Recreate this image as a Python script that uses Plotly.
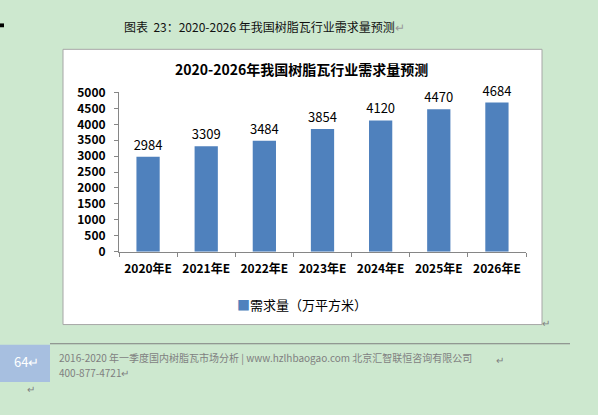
import plotly.graph_objects as go

categories = ["2020年E", "2021年E", "2022年E", "2023年E", "2024年E", "2025年E", "2026年E"]
demand = [2984, 3309, 3484, 3854, 4120, 4470, 4684]
series_name = "需求量（万平方米）"
chart_title = "2020-2026年我国树脂瓦行业需求量预测"
caption = "图表  23：2020-2026 年我国树脂瓦行业需求量预测"
footer_line1 = "2016-2020 年一季度国内树脂瓦市场分析 | www.hzlhbaogao.com 北京汇智联恒咨询有限公司"
footer_line2 = "400-877-4721"
page_no = "64"

W, H = 598, 415
def px(x): return x / W
def py(y): return 1 - y / H

FONT = "Noto Sans CJK SC"
BG = "#cde8cf"
BAR = "#4f81bd"

fig = go.Figure()
fig.add_trace(go.Bar(
    x=categories, y=demand, name=series_name,
    marker=dict(color=BAR, line=dict(width=0)),
    width=0.4,
    text=[str(v) for v in demand], textposition="outside", constraintext="none",
    textfont=dict(family=FONT, size=13, color="#000000"),
    cliponaxis=False, showlegend=False,
))

shapes = [
    dict(type="rect", xref="paper", yref="paper", x0=px(63), x1=px(542), y0=py(328), y1=py(41),
         fillcolor="white", line=dict(color="#a6a6a6", width=1), layer="below"),
    dict(type="line", xref="paper", yref="paper", x0=px(50), x1=px(570), y0=py(348), y1=py(348),
         line=dict(color="#7f7f7f", width=1)),
    dict(type="rect", xref="paper", yref="paper", x0=px(0), x1=px(50), y0=py(388), y1=py(349),
         fillcolor="#a7bfe0", line=dict(width=0)),
    dict(type="rect", xref="paper", yref="paper", x0=px(0), x1=px(4), y0=py(18), y1=py(14),
         fillcolor="#000000", line=dict(width=0)),
]

annotations = [
    dict(text=caption + "<span style='color:#999'>↵</span>", x=px(264), y=py(17), xref="paper", yref="paper",
         showarrow=False, font=dict(family=FONT, size=12, color="#111111"), xanchor="center", yanchor="middle"),
    dict(text="<b>" + chart_title + "</b>", x=px(301), y=py(61), xref="paper", yref="paper",
         showarrow=False, font=dict(family=FONT, size=14, color="#000000"), xanchor="center", yanchor="middle"),
    dict(text="<span style='color:%s'>■</span>" % BAR + series_name, x=px(302), y=py(307), xref="paper", yref="paper",
         showarrow=False, font=dict(family=FONT, size=13, color="#000000"), xanchor="center", yanchor="middle"),
    dict(text=page_no + "↵", x=px(26), y=py(367), xref="paper", yref="paper",
         showarrow=False, font=dict(family=FONT, size=13, color="#ffffff"), xanchor="center", yanchor="middle"),
    dict(text=footer_line1, x=px(57), y=py(362), xref="paper", yref="paper",
         showarrow=False, font=dict(family=FONT, size=10, color="#7f7f7f"), xanchor="left", yanchor="middle"),
    dict(text=footer_line2 + "↵", x=px(57), y=py(378), xref="paper", yref="paper",
         showarrow=False, font=dict(family=FONT, size=10, color="#7f7f7f"), xanchor="left", yanchor="middle"),
    dict(text="↵", x=px(500), y=py(364), xref="paper", yref="paper",
         showarrow=False, font=dict(family=FONT, size=10, color="#7f7f7f"), xanchor="center", yanchor="middle"),
    dict(text="↵", x=px(31), y=py(395), xref="paper", yref="paper",
         showarrow=False, font=dict(family=FONT, size=10, color="#7f7f7f"), xanchor="center", yanchor="middle"),
    dict(text="↵", x=px(546), y=py(326), xref="paper", yref="paper",
         showarrow=False, font=dict(family=FONT, size=10, color="#7f7f7f"), xanchor="center", yanchor="middle"),
]

fig.update_layout(
    width=W, height=H, autosize=False,
    margin=dict(l=0, r=0, t=0, b=0, pad=0),
    paper_bgcolor=BG, plot_bgcolor="white",
    font=dict(family=FONT, size=12, color="#000000"),
    showlegend=False,
    xaxis=dict(domain=[px(119), px(526)], type="category", showgrid=False,
               showline=True, linecolor="#868686", linewidth=1,
               ticks="outside", ticklen=4, tickcolor="#868686", tickson="boundaries",
               tickfont=dict(family=FONT, size=12, color="#000000", weight="bold"), ticklabelstandoff=6),
    yaxis=dict(domain=[py(252), py(86)], range=[0, 5000], dtick=500, showgrid=False,
               showline=True, linecolor="#868686", linewidth=1,
               ticks="outside", ticklen=4, tickcolor="#868686",
               tickfont=dict(family=FONT, size=12, color="#000000", weight="bold"), ticklabelstandoff=6),
    bargap=0.6,
    shapes=shapes, annotations=annotations,
)

fig.write_html("out.html")
